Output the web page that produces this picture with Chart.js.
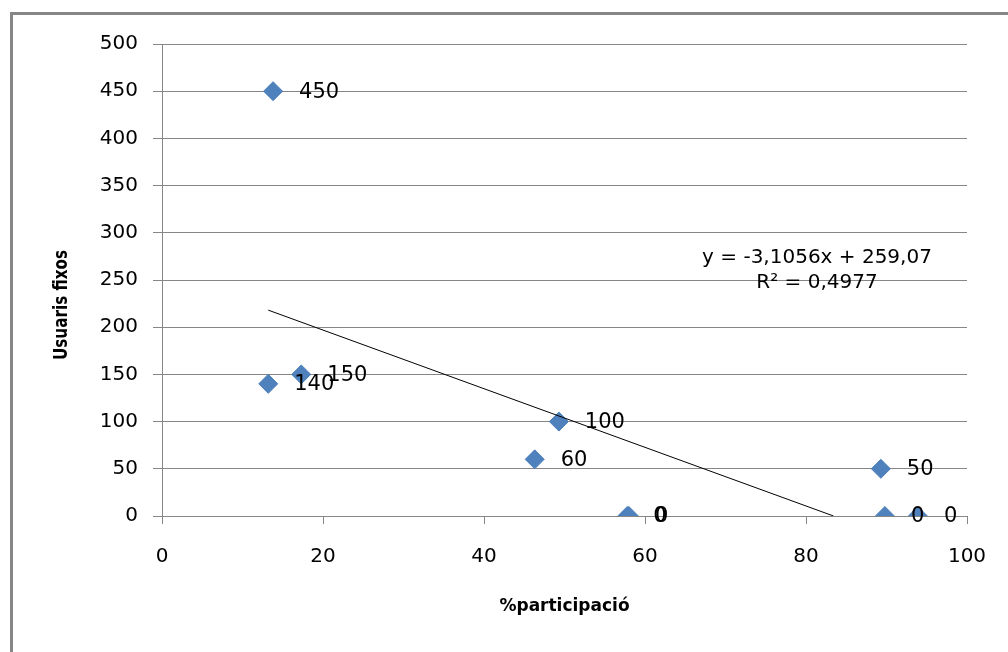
<!DOCTYPE html>
<html>
<head>
<meta charset="utf-8">
<title>Usuaris fixos vs %participació</title>
<script src="https://cdn.jsdelivr.net/npm/chart.js@4/dist/chart.umd.min.js"></script>
<style>
  html, body { margin: 0; padding: 0; background: #fff; overflow: hidden; }
  #wrap { position: relative; width: 1008px; height: 652px; }
  #frame {
    position: absolute; left: 10px; top: 12px;
    width: 1100px; height: 700px;
    border: 3px solid #868686;
  }
  canvas { position: absolute; left: 0; top: 0; }
</style>
</head>
<body>
<div id="wrap">
  <div id="frame"></div>
  <canvas id="scatterChart" width="1008" height="652"></canvas>
</div>
<script>
// dades llegides del gràfic
const participacio = [13.8, 13.2, 17.3, 49.3, 46.3, 57.8, 58.0, 89.3, 89.8, 93.9];
const usuarisFixos = [450, 140, 150, 100, 60, 0, 0, 50, 0, 0];
const xTicks = [0, 20, 40, 60, 80, 100];
const yTicks = [0, 50, 100, 150, 200, 250, 300, 350, 400, 450, 500];

// línia de tendència (tal com surt a l'equació)
const trendSlope = -3.1056;
const trendIntercept = 259.07;
const trendText = ["y = -3,1056x + 259,07", "R\u00b2 = 0,4977"];

const gridGray = "#868686";
const labelFont = "21px 'DejaVu Sans', sans-serif";

/* =========================
   PUNTS I TENDÈNCIA
========================= */
const points = participacio.map((x, i) => ({ x: x, y: usuarisFixos[i] }));

const trendStart = Math.min(...participacio);
const trendEnd = -trendIntercept / trendSlope; // on talla y = 0
const trendPoints = [
  { x: trendStart, y: trendSlope * trendStart + trendIntercept },
  { x: trendEnd, y: 0 }
];

/* =========================
   PLUGIN: etiquetes i textos
========================= */
const labelsPlugin = {
  id: "labelsPlugin",
  afterDatasetsDraw(chart) {
    const ctx = chart.ctx;
    const meta = chart.getDatasetMeta(1);
    ctx.save();
    ctx.fillStyle = "#000";
    ctx.font = labelFont;
    ctx.textAlign = "left";
    ctx.textBaseline = "middle";
    meta.data.forEach((pt, i) => {
      ctx.fillText(String(usuarisFixos[i]), pt.x + 26, pt.y + 1);
    });

    // equació de la tendència
    ctx.font = "20px 'DejaVu Sans', sans-serif";
    ctx.textAlign = "center";
    ctx.fillText(trendText[0], 817, 258);
    ctx.fillText(trendText[1], 817, 283);

    // títol de l'eix Y (una mica comprimit, com l'original)
    ctx.translate(62, 305);
    ctx.rotate(-Math.PI / 2);
    ctx.scale(0.8, 1);
    ctx.font = "bold 19px 'DejaVu Sans', sans-serif";
    ctx.fillText("Usuaris fixos", 0, 0);
    ctx.restore();
  }
};

/* =========================
   GRÀFIC
========================= */
new Chart(document.getElementById("scatterChart"), {
  type: "scatter",
  data: {
    datasets: [
      {
        type: "line",
        label: "Tendència",
        data: trendPoints,
        borderColor: "#000",
        borderWidth: 1,
        pointRadius: 0,
        fill: false
      },
      {
        label: "Usuaris fixos",
        data: points,
        pointStyle: "rectRot",
        pointRadius: 9.5,
        pointHoverRadius: 9.5,
        backgroundColor: "#4F81BD",
        borderColor: "#4A7EBB",
        borderWidth: 1
      }
    ]
  },
  options: {
    responsive: false,
    animation: false,
    events: [],
    layout: { padding: { left: 0, top: 44, right: 41, bottom: 0 } },
    plugins: {
      legend: { display: false },
      tooltip: { enabled: false }
    },
    scales: {
      x: {
        type: "linear",
        min: 0,
        max: 100,
        afterBuildTicks: (scale) => { scale.ticks = xTicks.map(v => ({ value: v })); },
        afterFit: (scale) => { scale.height = 136; },
        grid: { display: true, drawOnChartArea: false, drawTicks: true, tickLength: 8, color: gridGray },
        border: { display: true, color: gridGray, width: 1 },
        ticks: {
          color: "#000",
          padding: 21,
          maxRotation: 0,
          font: { family: "'DejaVu Sans', sans-serif", size: 20 }
        },
        title: {
          display: true,
          text: "%participació",
          color: "#000",
          padding: { top: 0, bottom: 35 },
          font: { family: "'DejaVu Sans', sans-serif", size: 17, weight: "bold" }
        }
      },
      y: {
        type: "linear",
        min: 0,
        max: 500,
        afterBuildTicks: (scale) => { scale.ticks = yTicks.map(v => ({ value: v })); },
        afterFit: (scale) => { scale.width = 162; },
        grid: { color: gridGray, lineWidth: 1, tickLength: 9 },
        border: { display: true, color: gridGray, width: 1 },
        ticks: {
          color: "#000",
          padding: 15,
          font: { family: "'DejaVu Sans', sans-serif", size: 20 }
        }
      }
    }
  },
  plugins: [labelsPlugin]
});
</script>
</body>
</html>
